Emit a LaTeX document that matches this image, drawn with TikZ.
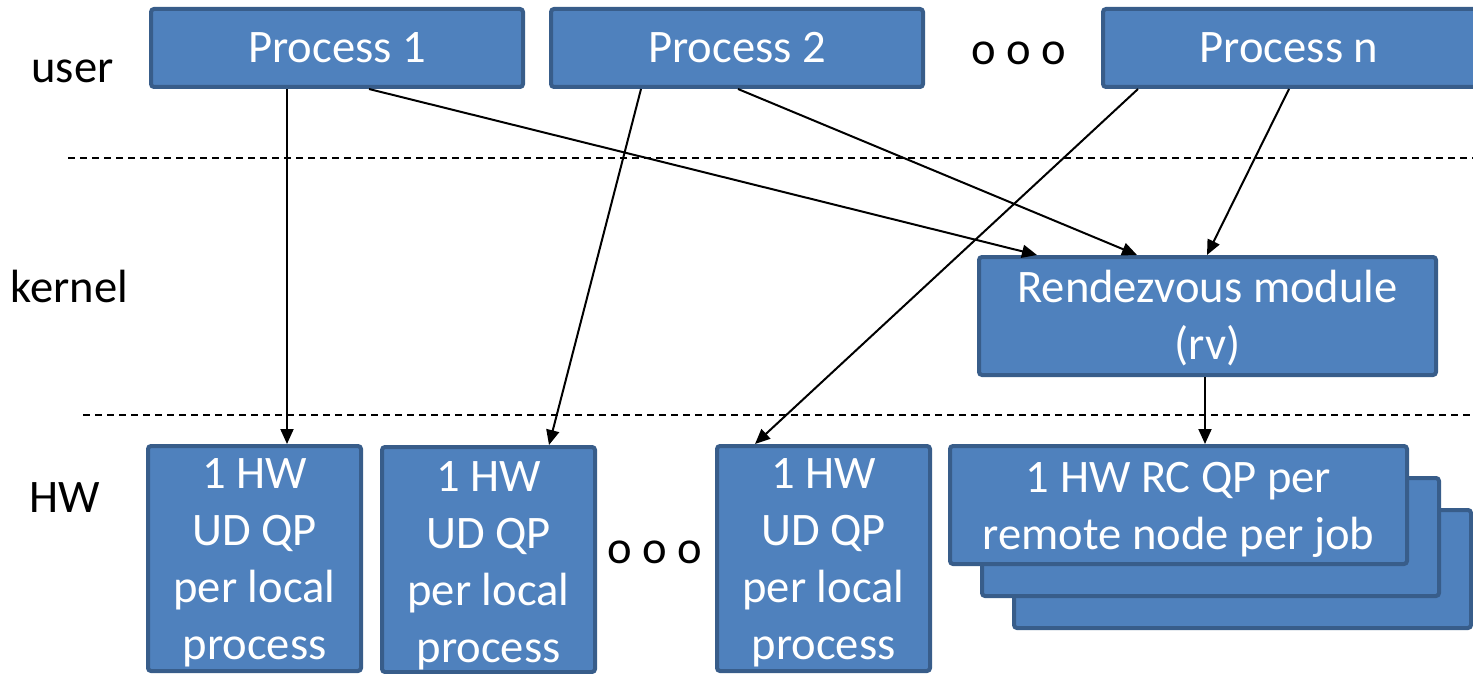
\documentclass[tikz,border=0pt]{standalone}
\usepackage{fontspec}
\setmainfont{Carlito}
\usetikzlibrary{arrows.meta,fit}
\definecolor{boxblue}{HTML}{4F81BD}
\definecolor{boxedge}{HTML}{385D8A}
% strut that fixes the top of a multi-line label at 0.8em above its first baseline
\newcommand{\firstln}{\rule{0pt}{0.8em}}
\begin{document}
\begin{tikzpicture}[x=0.5pt,y=-0.5pt,
  blk/.style={fill=boxblue,draw=boxedge,line width=2pt,rounded corners=1.5pt,inner sep=0pt},
  lbl/.style={font=\fontsize{23.3}{28.5}\selectfont,inner sep=0pt,text=white,align=center},
  side/.style={font=\fontsize{23.3}{28.5}\selectfont,inner sep=0pt,anchor=base west},
  flow/.style={line width=1pt,-{Triangle[length=7.5pt,width=6.5pt]}},
  layer/.style={line width=0.75pt,dash pattern=on 3.5pt off 2.5pt}]
\useasboundingbox (0,0) rectangle (1473,674);

% layer separators
\coordinate (d1a) at (68,158);  \coordinate (d1b) at (1473,158);
\coordinate (d2a) at (83,415);  \coordinate (d2b) at (1473,415);
\draw[layer] (d1a) -- (d1b);
\draw[layer] (d2a) -- (d2b);

% layer names
\node[side] (luser) at (31,83) {user};
\node[side] (lkern) at (10,302) {kernel};
\node[side] (lhw) at (29,512) {HW};

% user processes
\node[blk, fit={(151,9) (523,87)}] (p1) {};
\node[blk, fit={(551,9) (923,87)}] (p2) {};
\node[blk, fit={(1103,9) (1477,87)}] (pn) {};
\node[lbl, anchor=base] (tp1) at (337,63) {Process 1};
\node[lbl, anchor=base] (tp2) at (737,63) {Process 2};
\node[lbl, anchor=base] (tpn) at (1289,63) {Process n};
\node[side] (dots1) at (971,65) {o o o};

% kernel module
\node[blk, fit={(979,257) (1436,375)}] (rv) {};
\node[lbl, anchor=north] (trv) at (1207.5,264.5) {\firstln Rendezvous module\\(rv)};

% per-process UD queue pairs
\node[blk, fit={(148,446) (361,671)}] (hw1) {};
\node[blk, fit={(382,447) (595,672)}] (hw2) {};
\node[blk, fit={(717,446) (930,671)}] (hw3) {};
\node[lbl, anchor=north] (thw1) at (254.5,450.7) {\firstln 1 HW\\UD QP\\per local\\process};
\node[lbl, anchor=north] (thw2) at (488.5,453.4) {\firstln 1 HW\\UD QP\\per local\\process};
\node[lbl, anchor=north] (thw3) at (823.5,450.7) {\firstln 1 HW\\UD QP\\per local\\process};
\node[side] (dots2) at (607,563) {o o o};

% stack of RC queue pairs, back to front
\node[blk, fit={(1014,510) (1471,628)}] (rc3) {};
\node[blk, fit={(982,478) (1439,596)}] (rc2) {};
\node[blk, fit={(950,446) (1407,564)}] (rc1) {};
\node[lbl, anchor=north] (trc) at (1178.5,454.4) {\firstln 1 HW RC QP per\\remote node per job};

% connections
\draw[flow] (p1.south -| 287,0) -- (hw1.north -| 287,0);
\draw[flow] (p1.south -| 369,0) -- (rv.north -| 1037,0);
\draw[flow] (p2.south -| 641,0) -- (hw2.north -| 549,0);
\draw[flow] (p2.south -| 738,0) -- (rv.north -| 1137,0);
\draw[flow] (pn.south -| 1138,0) -- (hw3.north -| 755,0);
\draw[flow] (pn.south -| 1289,0) -- (rv.north -| 1207,0);
\draw[flow] (rv.south -| 1205,0) -- (rc1.north -| 1205,0);
\end{tikzpicture}
\end{document}
